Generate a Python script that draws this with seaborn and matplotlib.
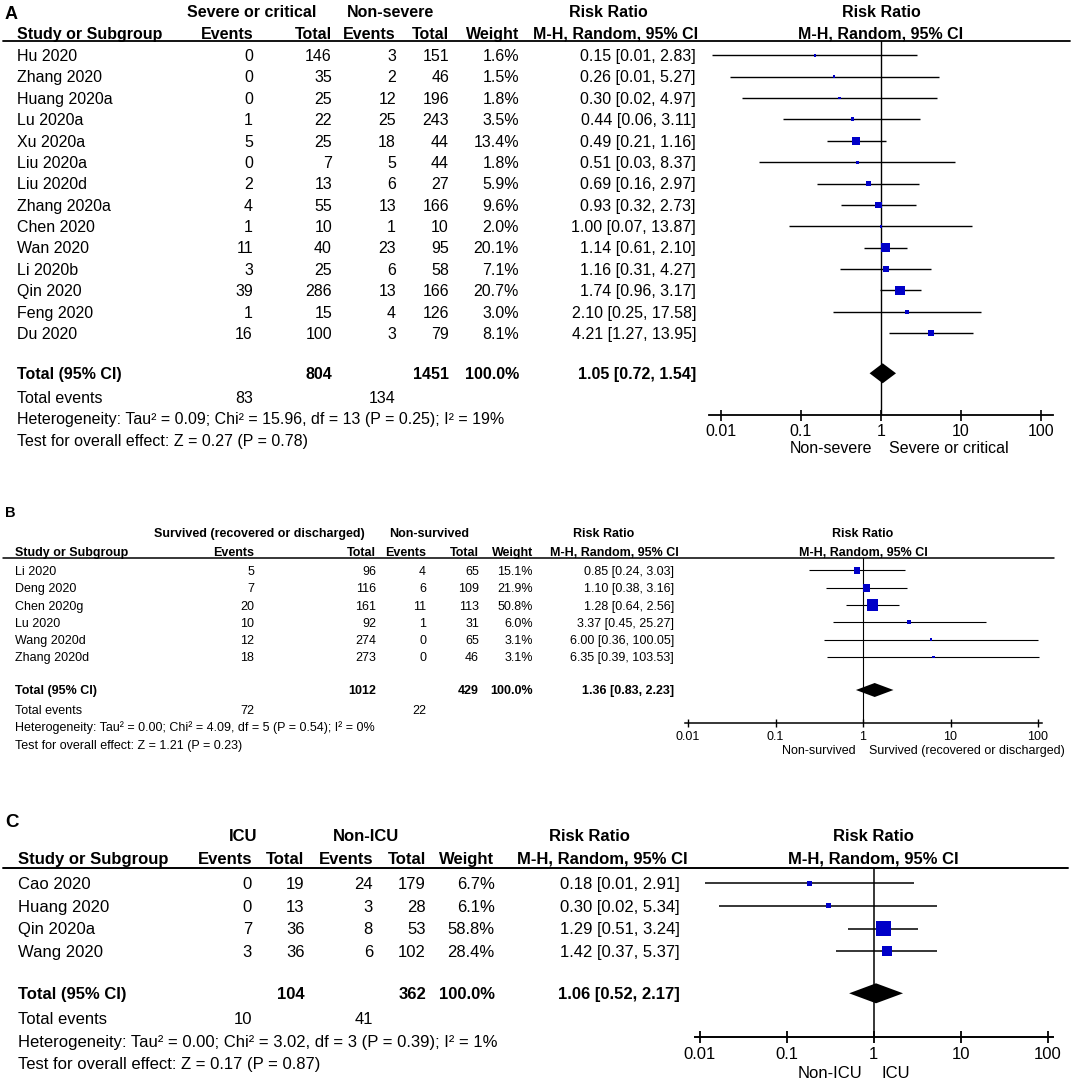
import numpy as np
import matplotlib
matplotlib.use("Agg")
import matplotlib.pyplot as plt
import seaborn as sns
from matplotlib.lines import Line2D

# ---- data: panel A (severe/critical vs non-severe) ----
names_a = ["Hu 2020", "Zhang 2020", "Huang 2020a", "Lu 2020a", "Xu 2020a", "Liu 2020a", "Liu 2020d",
           "Zhang 2020a", "Chen 2020", "Wan 2020", "Li 2020b", "Qin 2020", "Feng 2020", "Du 2020"]
ev1_a = [0, 0, 0, 1, 5, 0, 2, 4, 1, 11, 3, 39, 1, 16]
tot1_a = [146, 35, 25, 22, 25, 7, 13, 55, 10, 40, 25, 286, 15, 100]
ev2_a = [3, 2, 12, 25, 18, 5, 6, 13, 1, 23, 6, 13, 4, 3]
tot2_a = [151, 46, 196, 243, 44, 44, 27, 166, 10, 95, 58, 166, 126, 79]
wt_a = [1.6, 1.5, 1.8, 3.5, 13.4, 1.8, 5.9, 9.6, 2.0, 20.1, 7.1, 20.7, 3.0, 8.1]
rr_a = [0.15, 0.26, 0.30, 0.44, 0.49, 0.51, 0.69, 0.93, 1.00, 1.14, 1.16, 1.74, 2.10, 4.21]
lo_a = [0.0077, 0.0129, 0.0183, 0.06, 0.21, 0.03, 0.16, 0.32, 0.07, 0.61, 0.31, 0.96, 0.25, 1.27]
hi_a = [2.83, 5.27, 4.97, 3.11, 1.16, 8.37, 2.97, 2.73, 13.87, 2.10, 4.27, 3.17, 17.58, 13.95]
total_a = (1.05, 0.72, 1.54)
groups_a = ("Severe or critical", "Non-severe")
het_a = "Heterogeneity: Tau² = 0.09; Chi² = 15.96, df = 13 (P = 0.25); I² = 19%"
test_a = "Test for overall effect: Z = 0.27 (P = 0.78)"

# ---- data: panel B (survived vs non-survived) ----
names_b = ["Li 2020", "Deng 2020", "Chen 2020g", "Lu 2020", "Wang 2020d", "Zhang 2020d"]
ev1_b = [5, 7, 20, 10, 12, 18]
tot1_b = [96, 116, 161, 92, 274, 273]
ev2_b = [4, 6, 11, 1, 0, 0]
tot2_b = [65, 109, 113, 31, 65, 46]
wt_b = [15.1, 21.9, 50.8, 6.0, 3.1, 3.1]
rr_b = [0.85, 1.10, 1.28, 3.37, 6.00, 6.35]
lo_b = [0.24, 0.38, 0.64, 0.45, 0.36, 0.39]
hi_b = [3.03, 3.16, 2.56, 25.27, 100.05, 103.53]
total_b = (1.36, 0.83, 2.23)
groups_b = ("Survived (recovered or discharged)", "Non-survived")
het_b = "Heterogeneity: Tau² = 0.00; Chi² = 4.09, df = 5 (P = 0.54); I² = 0%"
test_b = "Test for overall effect: Z = 1.21 (P = 0.23)"

# ---- data: panel C (ICU vs non-ICU) ----
names_c = ["Cao 2020", "Huang 2020", "Qin 2020a", "Wang 2020"]
ev1_c = [0, 0, 7, 3]
tot1_c = [19, 13, 36, 36]
ev2_c = [24, 3, 8, 6]
tot2_c = [179, 28, 53, 102]
wt_c = [6.7, 6.1, 58.8, 28.4]
rr_c = [0.18, 0.30, 1.29, 1.42]
lo_c = [0.0114, 0.0164, 0.51, 0.37]
hi_c = [2.91, 5.34, 3.24, 5.37]
total_c = (1.06, 0.52, 2.17)
groups_c = ("ICU", "Non-ICU")
het_c = "Heterogeneity: Tau² = 0.00; Chi² = 3.02, df = 3 (P = 0.39); I² = 1%"
test_c = "Test for overall effect: Z = 0.17 (P = 0.87)"

ticks = [0.01, 0.1, 1, 10, 100]
tick_labels = ["0.01", "0.1", "1", "10", "100"]
BLUE = "#0000c8"

sns.set_theme(style="white", rc={"text.color": "black", "xtick.color": "black",
                                 "axes.edgecolor": "black", "axes.facecolor": "none"})
plt.rcParams["font.family"] = ["Liberation Sans", "DejaVu Sans"]

W, H, DPI = 1074, 1083, 100
fig = plt.figure(figsize=(W / DPI, H / DPI), dpi=DPI)


def put(x, y, s, fs, ha="left", bold=False):
    # y is the pixel centre of the capitals
    base = y + 0.358 * fs * DPI / 72
    fig.text(x / W, 1 - base / H, s, ha=ha, va="baseline", fontsize=fs,
             fontweight="bold" if bold else "normal")


def hline(x0, x1, y, lw):
    fig.add_artist(Line2D([x0 / W, x1 / W], [1 - y / H, 1 - y / H], color="black", lw=lw))


def panel(letter, names, ev1, tot1, ev2, tot2, wt, rr, lo, hi, total, groups, het, test, L):
    fs = L["fs"]
    cols = L["cols"]
    put(5, L["letter_y"], letter, fs + 1.5, bold=True)
    put(L["group_x"][0], L["group_y"], groups[0], fs, ha="center", bold=True)
    put(L["group_x"][1], L["group_y"], groups[1], fs, ha="center", bold=True)
    put(L["rrhead"][0], L["group_y"], "Risk Ratio", fs, ha="center", bold=True)
    put(L["c1"], L["group_y"], "Risk Ratio", fs, ha="center", bold=True)
    put(L["name_x"], L["head_y"], "Study or Subgroup", fs, bold=True)
    for x, s in zip(cols, ["Events", "Total", "Events", "Total", "Weight"]):
        put(x, L["head_y"], s, fs, ha="right", bold=True)
    put(L["rrhead"][1], L["head_y"], "M-H, Random, 95% CI", fs, ha="center", bold=True)
    put(L["c1"], L["head_y"], "M-H, Random, 95% CI", fs, ha="center", bold=True)
    hline(3, L["line_x1"], L["line_y"], L["lw"] + 0.3)

    ys = [L["row0"] + i * L["drow"] for i in range(len(names))]
    for i, y in enumerate(ys):
        put(L["name_x"], y, names[i], fs)
        put(cols[0], y, str(ev1[i]), fs, ha="right")
        put(cols[1], y, str(tot1[i]), fs, ha="right")
        put(cols[2], y, str(ev2[i]), fs, ha="right")
        put(cols[3], y, str(tot2[i]), fs, ha="right")
        put(cols[4], y, f"{wt[i]:.1f}%", fs, ha="right")
        put(L["rr_x"], y, f"{rr[i]:.2f} [{lo[i]:.2f}, {hi[i]:.2f}]", fs, ha="right")

    ty = L["total_y"]
    put(L["name_x"], ty, "Total (95% CI)", fs, bold=True)
    put(cols[1], ty, str(sum(tot1)), fs, ha="right", bold=True)
    put(cols[3], ty, str(sum(tot2)), fs, ha="right", bold=True)
    put(cols[4], ty, "100.0%", fs, ha="right", bold=True)
    put(L["rr_x"], ty, f"{total[0]:.2f} [{total[1]:.2f}, {total[2]:.2f}]", fs, ha="right", bold=True)
    put(L["name_x"], L["events_y"], "Total events", fs)
    put(cols[0], L["events_y"], str(sum(ev1)), fs, ha="right")
    put(cols[2], L["events_y"], str(sum(ev2)), fs, ha="right")
    put(L["name_x"], L["het_y"], het, fs)
    put(L["name_x"], L["test_y"], test, fs)

    # forest area: x in log risk ratio, y in pixel rows
    c1, dec = L["c1"], L["dec"]
    x0, x1, top, bot = L["ax_l"], L["ax_r"], L["line_y"], L["ax_y"]
    ax = fig.add_axes([x0 / W, 1 - bot / H, (x1 - x0) / W, (bot - top) / H])
    ax.set_xscale("log")
    ax.set_xlim(10 ** ((x0 - c1) / dec), 10 ** ((x1 - c1) / dec))
    ax.set_ylim(bot, top)
    ax.axvline(1, color="black", lw=L["lw"])
    ax.hlines(ys, lo, hi, color="black", lw=L["lw"], clip_on=False)
    side = L["box_k"] * np.sqrt(wt) * 0.72
    ax.scatter(rr, ys, s=side ** 2, marker="s", color=BLUE, linewidths=0, zorder=3)
    dh = L["dh"]
    ax.fill([total[1], total[0], total[2], total[0]], [ty, ty - dh, ty, ty + dh],
            color="black", zorder=3, lw=0)
    ax.set_xticks(ticks)
    ax.set_xticklabels(tick_labels)
    ax.minorticks_off()
    ax.set_yticks([])
    tl = L["tick_len"] * 0.72
    pad = ((L["ticklab_y"] - bot) - 0.358 * fs * DPI / 72) * 0.72 - tl / 2
    ax.tick_params(axis="x", direction="inout", length=tl, width=L["lw"] + 0.2,
                   labelsize=fs, pad=pad, bottom=True)
    sns.despine(ax=ax, left=True)
    ax.spines["bottom"].set_linewidth(L["lw"] + 0.3)
    put(c1 - L["gap"][0], L["bottom_y"], L["sides"][0], fs, ha="right")
    put(c1 + L["gap"][1], L["bottom_y"], L["sides"][1], fs, ha="left")


lay_a = dict(fs=11.5, letter_y=13, group_y=11, group_x=(252, 390), head_y=33, line_y=40.5,
             line_x1=1070, cols=[253, 332, 396, 449, 519], name_x=17, rr_x=696, rrhead=(608, 616),
             c1=881, dec=80, ax_l=709, ax_r=1053, ax_y=415, row0=55.3, drow=21.38,
             total_y=373.3, events_y=397.3, het_y=418.3, test_y=440, ticklab_y=430,
             bottom_y=447, gap=(9, 8), box_k=2.1, dh=10, lw=1.0, tick_len=11,
             sides=("Non-severe", "Severe or critical"))
lay_b = dict(fs=9, letter_y=512, group_y=533, group_x=(259, 429), head_y=551.5, line_y=557.5,
             line_x1=1054, cols=[254, 376, 426, 479, 533], name_x=15, rr_x=674, rrhead=(604, 614),
             c1=863, dec=87.5, ax_l=685, ax_r=1042, ax_y=723.3, row0=570.5, drow=17.3,
             total_y=690, events_y=709.3, het_y=726.7, test_y=744.3, ticklab_y=735,
             bottom_y=750, gap=(7, 6), box_k=1.6, dh=7, lw=0.8, tick_len=8,
             sides=("Non-survived", "Survived (recovered or discharged)"))
lay_c = dict(fs=12, letter_y=820, group_y=835, group_x=(243.5, 366), head_y=858, line_y=867.7,
             line_x1=1068, cols=[252, 304.5, 373, 426, 494.5], name_x=18, rr_x=680, rrhead=(589, 602),
             c1=873.8, dec=86.9, ax_l=695, ax_r=1052.6, ax_y=1037.3, row0=883.3, drow=22.6,
             total_y=993.3, events_y=1018.3, het_y=1040.7, test_y=1063.3, ticklab_y=1053.3,
             bottom_y=1071.7, gap=(11, 8), box_k=1.95, dh=10, lw=1.1, tick_len=12,
             sides=("Non-ICU", "ICU"))

panel("A", names_a, ev1_a, tot1_a, ev2_a, tot2_a, wt_a, rr_a, lo_a, hi_a, total_a, groups_a, het_a, test_a, lay_a)
panel("B", names_b, ev1_b, tot1_b, ev2_b, tot2_b, wt_b, rr_b, lo_b, hi_b, total_b, groups_b, het_b, test_b, lay_b)
panel("C", names_c, ev1_c, tot1_c, ev2_c, tot2_c, wt_c, rr_c, lo_c, hi_c, total_c, groups_c, het_c, test_c, lay_c)

fig.savefig("out.png", dpi=DPI, facecolor="white")
